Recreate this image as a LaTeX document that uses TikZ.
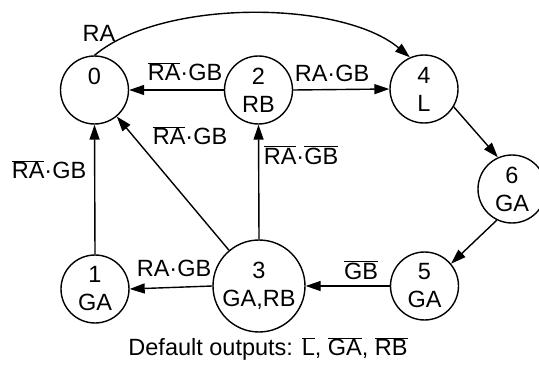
\documentclass[tikz,border=0pt]{standalone}
\usepackage{fontspec}
\setmainfont{Liberation Sans}
\usetikzlibrary{arrows.meta}
\newcommand{\olx}[1]{$\overline{\mbox{#1}}$}
\begin{document}
\begin{tikzpicture}[x=1pt,y=-1pt,
  every node/.style={font=\fontsize{23.5}{28}\selectfont, inner sep=0pt},
  state/.style={draw, circle, line width=1.4pt, minimum size=68pt, align=center},
  bigstate/.style={state, minimum size=92pt},
  lbl/.style={},
  conn/.style={line width=1.4pt, -{Triangle[length=15pt,width=10pt]}}]
\useasboundingbox (0,0) rectangle (539,369);
\node[state] (n0) at (94.5,90) {0\\\phantom{A}};
\node[state] (n2) at (258.5,90) {2\\RB};
\node[state] (n4) at (424,89) {4\\L};
\node[state] (n6) at (512,189) {6\\GA};
\node[state] (n1) at (95,289) {1\\GA};
\node[bigstate] (n3) at (259,286) {3\\GA,RB};
\node[state] (n5) at (424.5,286) {5\\GA};
\draw[conn] (n0.north) to[out=40,in=140,looseness=0.72] (n4.114);
\draw[conn] (n2.west) -- (n0.east);
\draw[conn] (n2.east) -- (n4.west);
\draw[conn] (n4.-31) -- (n6.114);
\draw[conn] (n6.244) -- (n5.40);
\draw[conn] (n5.west) -- (n3.east);
\draw[conn] (n3.west) -- (n1.east);
\draw[conn] (n1.north) -- (n0.south);
\draw[conn] (n3) -- (n0);
\draw[conn] (n3.north) -- (n2.south);
\node[lbl] (l04) at (99,33) {RA};
\node[lbl] (l20) at (185,72) {\olx{RA}·GB};
\node[lbl] (l24) at (332,73) {RA·GB};
\node[lbl] (l30) at (190,136) {\olx{RA}·GB};
\node[lbl] (l10) at (49,170) {\olx{RA}·GB};
\node[lbl] (l32) at (301,155) {\olx{RA}·\olx{GB}};
\node[lbl] (l31) at (174,268) {RA·GB};
\node[lbl] (l53) at (361,270) {\olx{GB}};
\node[lbl] (def) at (268,349) {Default outputs: \olx{L}, \olx{GA}, \olx{RB}};
\end{tikzpicture}
\end{document}
